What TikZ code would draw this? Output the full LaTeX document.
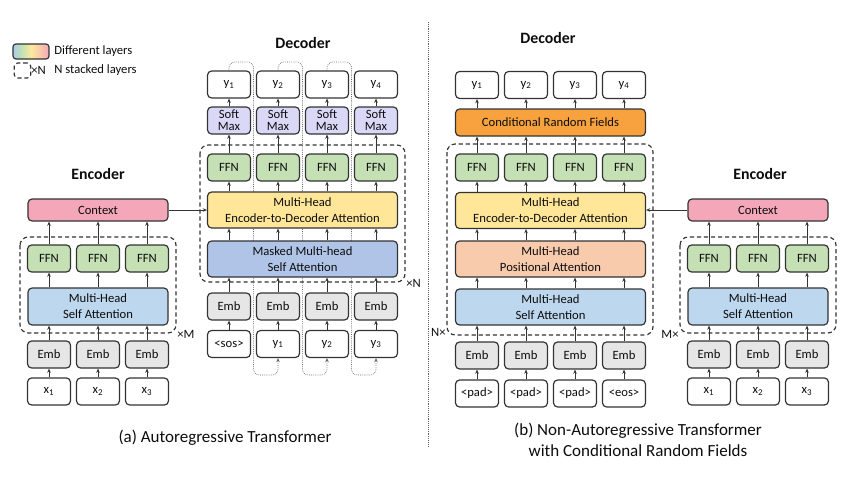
\documentclass[tikz,border=0pt]{standalone}
\usepackage{fontspec}
\setmainfont{Carlito}
\usetikzlibrary{arrows.meta,backgrounds}

\definecolor{ctxpink}{HTML}{F4A7B9}
\definecolor{ffngreen}{HTML}{C5E0B4}
\definecolor{sablue}{HTML}{BDD7EE}
\definecolor{mskblue}{HTML}{B0C4E8}
\definecolor{edayellow}{HTML}{FFE699}
\definecolor{smxpurple}{HTML}{D9D9F7}
\definecolor{embgray}{HTML}{E7E6E6}
\definecolor{crforange}{HTML}{F7A23E}
\definecolor{pospeach}{HTML}{F8CBAD}
\definecolor{lgblue}{HTML}{A9CBEA}
\definecolor{lggreen}{HTML}{C3E2B3}
\definecolor{lgyellow}{HTML}{FAE9A0}
\definecolor{lgpeach}{HTML}{F8C9AA}
\definecolor{lgpink}{HTML}{F4A9BB}
\pgfdeclarehorizontalshading{layershade}{100bp}{color(0bp)=(lgblue); color(25bp)=(lgblue); color(37.5bp)=(lggreen); color(50bp)=(lgyellow); color(62.5bp)=(lgpeach); color(75bp)=(lgpink); color(100bp)=(lgpink)}

\tikzset{
  blk/.style={draw=black!80, line width=1pt, rounded corners=3.5pt, inner sep=0pt, align=center, text=black!95, font=\fontsize{10.8}{13.5}\selectfont},
  cell/.style={blk, minimum width=1.29cm, minimum height=0.81cm},
  inbox/.style={cell, fill=white},
  emb/.style={cell, fill=embgray},
  ffn/.style={cell, fill=ffngreen},
  smx/.style={cell, fill=smxpurple, font=\fontsize{10.8}{10.5}\selectfont},
  encwide/.style={blk, minimum width=4.2cm, minimum height=1.11cm},
  decwide/.style={blk, minimum width=5.7cm, minimum height=1.08cm},
  ctxbox/.style={blk, fill=ctxpink, minimum width=4.2cm, minimum height=0.66cm},
  stack/.style={draw=black!80, line width=1pt, dash pattern=on 3.5pt off 2.5pt, rounded corners=7pt},
  arr/.style={->, draw=black!80, line width=0.75pt},
  fb/.style={->, draw=black!60, line width=0.6pt, densely dotted, rounded corners=5pt},
  lbl/.style={inner sep=1pt, text=black!95, font=\fontsize{10.8}{13}\selectfont},
  title/.style={text=black!95, font=\fontsize{13.5}{16}\bfseries\selectfont},
  caption/.style={text=black!95, align=center, font=\fontsize{14.5}{17.5}\selectfont}
}

\begin{document}
\begin{tikzpicture}[x=0.03cm, y=-0.03cm, >={Stealth[length=3.5pt,width=3pt]}]
\useasboundingbox (0,0) rectangle (850,478);

% legend
\node[draw=black!80, line width=1pt, rounded corners=2.5pt, shading=layershade, minimum width=1.08cm, minimum height=0.45cm, inner sep=0pt] (lgcol) at (31,51.5) {};
\node[lbl, anchor=west] (lgcoltxt) at (53,51.5) {Different layers};
\node[stack, minimum width=0.5cm, minimum height=0.45cm, inner sep=0pt, rounded corners=3pt] (lgstk) at (22.5,70.5) {};
\node[lbl, anchor=west] (lgx) at (30,70.5) {×N};
\node[lbl, anchor=west] (lgstktxt) at (53,70.5) {N stacked layers};

% (a) encoder
\node[title] (lenc) at (98,174) {Encoder};
\node[inbox] (lex1) at (49,391.5) {x\textsubscript{1}};
\node[inbox] (lex2) at (98,391.5) {x\textsubscript{2}};
\node[inbox] (lex3) at (147,391.5) {x\textsubscript{3}};
\node[emb] (leemb1) at (49,354.5) {Emb};
\node[emb] (leemb2) at (98,354.5) {Emb};
\node[emb] (leemb3) at (147,354.5) {Emb};
\node[encwide, fill=sablue] (lesa) at (98,306.5) {Multi-Head\\Self Attention};
\node[ffn] (leffn1) at (49,258.5) {FFN};
\node[ffn] (leffn2) at (98,258.5) {FFN};
\node[ffn] (leffn3) at (147,258.5) {FFN};
\node[ctxbox] (lectx) at (98,210) {Context};
\draw[stack] (20,237) rectangle (176,333);
\node[lbl, anchor=west] (lem) at (176,334) {×M};
\draw[arr] (lex1) -- (leemb1);
\draw[arr] (lex2) -- (leemb2);
\draw[arr] (lex3) -- (leemb3);
\draw[arr] (leemb1) -- (leemb1 |- lesa.south);
\draw[arr] (leemb2) -- (leemb2 |- lesa.south);
\draw[arr] (leemb3) -- (leemb3 |- lesa.south);
\draw[arr] (leffn1 |- lesa.north) -- (leffn1);
\draw[arr] (leffn2 |- lesa.north) -- (leffn2);
\draw[arr] (leffn3 |- lesa.north) -- (leffn3);
\draw[arr] (leffn1) -- (leffn1 |- lectx.south);
\draw[arr] (leffn2) -- (leffn2 |- lectx.south);
\draw[arr] (leffn3) -- (leffn3 |- lectx.south);

% (a) decoder
\node[title] (adec) at (303,43) {Decoder};
\node[inbox] (adin1) at (229,344) {<sos>};
\node[inbox] (adin2) at (278,344) {y\textsubscript{1}};
\node[inbox] (adin3) at (327,344) {y\textsubscript{2}};
\node[inbox] (adin4) at (376,344) {y\textsubscript{3}};
\node[emb] (ademb1) at (229,306.5) {Emb};
\node[emb] (ademb2) at (278,306.5) {Emb};
\node[emb] (ademb3) at (327,306.5) {Emb};
\node[emb] (ademb4) at (376,306.5) {Emb};
\node[decwide, fill=mskblue] (admsa) at (302.5,259) {Masked Multi-head\\Self Attention};
\node[decwide, fill=edayellow] (adeda) at (302.5,210) {Multi-Head\\Encoder-to-Decoder Attention};
\node[ffn] (adffn1) at (229,167.5) {FFN};
\node[ffn] (adffn2) at (278,167.5) {FFN};
\node[ffn] (adffn3) at (327,167.5) {FFN};
\node[ffn] (adffn4) at (376,167.5) {FFN};
\node[smx] (adsmx1) at (229,120.5) {Soft\\Max};
\node[smx] (adsmx2) at (278,120.5) {Soft\\Max};
\node[smx] (adsmx3) at (327,120.5) {Soft\\Max};
\node[smx] (adsmx4) at (376,120.5) {Soft\\Max};
\node[inbox] (ady1) at (229,84.5) {y\textsubscript{1}};
\node[inbox] (ady2) at (278,84.5) {y\textsubscript{2}};
\node[inbox] (ady3) at (327,84.5) {y\textsubscript{3}};
\node[inbox] (ady4) at (376,84.5) {y\textsubscript{4}};
\draw[stack] (200,145) rectangle (405,282);
\node[lbl, anchor=west] (adn) at (405,283) {×N};
\draw[arr] (adin1) -- (ademb1);
\draw[arr] (adin2) -- (ademb2);
\draw[arr] (adin3) -- (ademb3);
\draw[arr] (adin4) -- (ademb4);
\draw[arr] (ademb1) -- (ademb1 |- admsa.south);
\draw[arr] (ademb2) -- (ademb2 |- admsa.south);
\draw[arr] (ademb3) -- (ademb3 |- admsa.south);
\draw[arr] (ademb4) -- (ademb4 |- admsa.south);
\draw[arr] (ademb1 |- admsa.north) -- (ademb1 |- adeda.south);
\draw[arr] (ademb2 |- admsa.north) -- (ademb2 |- adeda.south);
\draw[arr] (ademb3 |- admsa.north) -- (ademb3 |- adeda.south);
\draw[arr] (ademb4 |- admsa.north) -- (ademb4 |- adeda.south);
\draw[arr] (adffn1 |- adeda.north) -- (adffn1);
\draw[arr] (adffn2 |- adeda.north) -- (adffn2);
\draw[arr] (adffn3 |- adeda.north) -- (adffn3);
\draw[arr] (adffn4 |- adeda.north) -- (adffn4);
\draw[arr] (adffn1) -- (adsmx1);
\draw[arr] (adffn2) -- (adsmx2);
\draw[arr] (adffn3) -- (adsmx3);
\draw[arr] (adffn4) -- (adsmx4);
\draw[arr] (adsmx1) -- (ady1);
\draw[arr] (adsmx2) -- (ady2);
\draw[arr] (adsmx3) -- (ady3);
\draw[arr] (adsmx4) -- (ady4);
\draw[arr] (lectx.east) -- (lectx.east -| adeda.west);
\coordinate (adtop1) at (253.5,62);
\coordinate (adbot1) at (253.5,375);
\coordinate (adtop2) at (302.5,62);
\coordinate (adbot2) at (302.5,375);
\coordinate (adtop3) at (351.5,62);
\coordinate (adbot3) at (351.5,375);
\begin{scope}[on background layer]
\draw[fb] (ady1.north) |- (adtop1) -- (adbot1) -| (adin2.south);
\draw[fb] (ady2.north) |- (adtop2) -- (adbot2) -| (adin3.south);
\draw[fb] (ady3.north) |- (adtop3) -- (adbot3) -| (adin4.south);
\end{scope}

\draw[black!60, line width=0.6pt, densely dotted] (428,22) -- (428,446);

% (b) decoder
\node[title] (bdec) at (548,38) {Decoder};
\node[inbox] (bdin1) at (477,393.5) {<pad>};
\node[inbox] (bdin2) at (526,393.5) {<pad>};
\node[inbox] (bdin3) at (575,393.5) {<pad>};
\node[inbox] (bdin4) at (624,393.5) {<eos>};
\node[emb] (bdemb1) at (477,355.5) {Emb};
\node[emb] (bdemb2) at (526,355.5) {Emb};
\node[emb] (bdemb3) at (575,355.5) {Emb};
\node[emb] (bdemb4) at (624,355.5) {Emb};
\node[decwide, fill=sablue] (bdsa) at (550.5,307) {Multi-Head\\Self Attention};
\node[decwide, fill=pospeach] (bdpa) at (550.5,259) {Multi-Head\\Positional Attention};
\node[decwide, fill=edayellow] (bdeda) at (550.5,210.5) {Multi-Head\\Encoder-to-Decoder Attention};
\node[ffn] (bdffn1) at (477,167.5) {FFN};
\node[ffn] (bdffn2) at (526,167.5) {FFN};
\node[ffn] (bdffn3) at (575,167.5) {FFN};
\node[ffn] (bdffn4) at (624,167.5) {FFN};
\node[blk, fill=crforange, minimum width=5.7cm, minimum height=0.81cm] (bdcrf) at (550.5,122.5) {Conditional Random Fields};
\node[inbox] (bdy1) at (477,85) {y\textsubscript{1}};
\node[inbox] (bdy2) at (526,85) {y\textsubscript{2}};
\node[inbox] (bdy3) at (575,85) {y\textsubscript{3}};
\node[inbox] (bdy4) at (624,85) {y\textsubscript{4}};
\draw[stack] (447,144) rectangle (653,335);
\node[lbl, anchor=east] (bdn) at (447,332) {N×};
\draw[arr] (bdin1) -- (bdemb1);
\draw[arr] (bdin2) -- (bdemb2);
\draw[arr] (bdin3) -- (bdemb3);
\draw[arr] (bdin4) -- (bdemb4);
\draw[arr] (bdemb1) -- (bdemb1 |- bdsa.south);
\draw[arr] (bdemb2) -- (bdemb2 |- bdsa.south);
\draw[arr] (bdemb3) -- (bdemb3 |- bdsa.south);
\draw[arr] (bdemb4) -- (bdemb4 |- bdsa.south);
\draw[arr] (bdemb1 |- bdsa.north) -- (bdemb1 |- bdpa.south);
\draw[arr] (bdemb2 |- bdsa.north) -- (bdemb2 |- bdpa.south);
\draw[arr] (bdemb3 |- bdsa.north) -- (bdemb3 |- bdpa.south);
\draw[arr] (bdemb4 |- bdsa.north) -- (bdemb4 |- bdpa.south);
\draw[arr] (bdemb1 |- bdpa.north) -- (bdemb1 |- bdeda.south);
\draw[arr] (bdemb2 |- bdpa.north) -- (bdemb2 |- bdeda.south);
\draw[arr] (bdemb3 |- bdpa.north) -- (bdemb3 |- bdeda.south);
\draw[arr] (bdemb4 |- bdpa.north) -- (bdemb4 |- bdeda.south);
\draw[arr] (bdffn1 |- bdeda.north) -- (bdffn1);
\draw[arr] (bdffn2 |- bdeda.north) -- (bdffn2);
\draw[arr] (bdffn3 |- bdeda.north) -- (bdffn3);
\draw[arr] (bdffn4 |- bdeda.north) -- (bdffn4);
\draw[arr] (bdffn1) -- (bdffn1 |- bdcrf.south);
\draw[arr] (bdffn2) -- (bdffn2 |- bdcrf.south);
\draw[arr] (bdffn3) -- (bdffn3 |- bdcrf.south);
\draw[arr] (bdffn4) -- (bdffn4 |- bdcrf.south);
\draw[arr] (bdy1 |- bdcrf.north) -- (bdy1);
\draw[arr] (bdy2 |- bdcrf.north) -- (bdy2);
\draw[arr] (bdy3 |- bdcrf.north) -- (bdy3);
\draw[arr] (bdy4 |- bdcrf.north) -- (bdy4);

% (b) encoder
\node[title] (renc) at (760,174) {Encoder};
\node[inbox] (rex1) at (709,391.5) {x\textsubscript{1}};
\node[inbox] (rex2) at (758,391.5) {x\textsubscript{2}};
\node[inbox] (rex3) at (807,391.5) {x\textsubscript{3}};
\node[emb] (reemb1) at (709,354.5) {Emb};
\node[emb] (reemb2) at (758,354.5) {Emb};
\node[emb] (reemb3) at (807,354.5) {Emb};
\node[encwide, fill=sablue] (resa) at (758,306.5) {Multi-Head\\Self Attention};
\node[ffn] (reffn1) at (709,258.5) {FFN};
\node[ffn] (reffn2) at (758,258.5) {FFN};
\node[ffn] (reffn3) at (807,258.5) {FFN};
\node[ctxbox] (rectx) at (758,210) {Context};
\draw[stack] (680,237) rectangle (836,333);
\node[lbl, anchor=east] (rem) at (680,334) {M×};
\draw[arr] (rex1) -- (reemb1);
\draw[arr] (rex2) -- (reemb2);
\draw[arr] (rex3) -- (reemb3);
\draw[arr] (reemb1) -- (reemb1 |- resa.south);
\draw[arr] (reemb2) -- (reemb2 |- resa.south);
\draw[arr] (reemb3) -- (reemb3 |- resa.south);
\draw[arr] (reffn1 |- resa.north) -- (reffn1);
\draw[arr] (reffn2 |- resa.north) -- (reffn2);
\draw[arr] (reffn3 |- resa.north) -- (reffn3);
\draw[arr] (reffn1) -- (reffn1 |- rectx.south);
\draw[arr] (reffn2) -- (reffn2 |- rectx.south);
\draw[arr] (reffn3) -- (reffn3 |- rectx.south);
\draw[arr] (rectx.west) -- (rectx.west -| bdeda.east);

% captions
\node[caption] (capa) at (225,438) {(a) Autoregressive Transformer};
\node[caption] (capb) at (638,440) {(b) Non-Autoregressive Transformer\\with Conditional Random Fields};
\end{tikzpicture}
\end{document}
